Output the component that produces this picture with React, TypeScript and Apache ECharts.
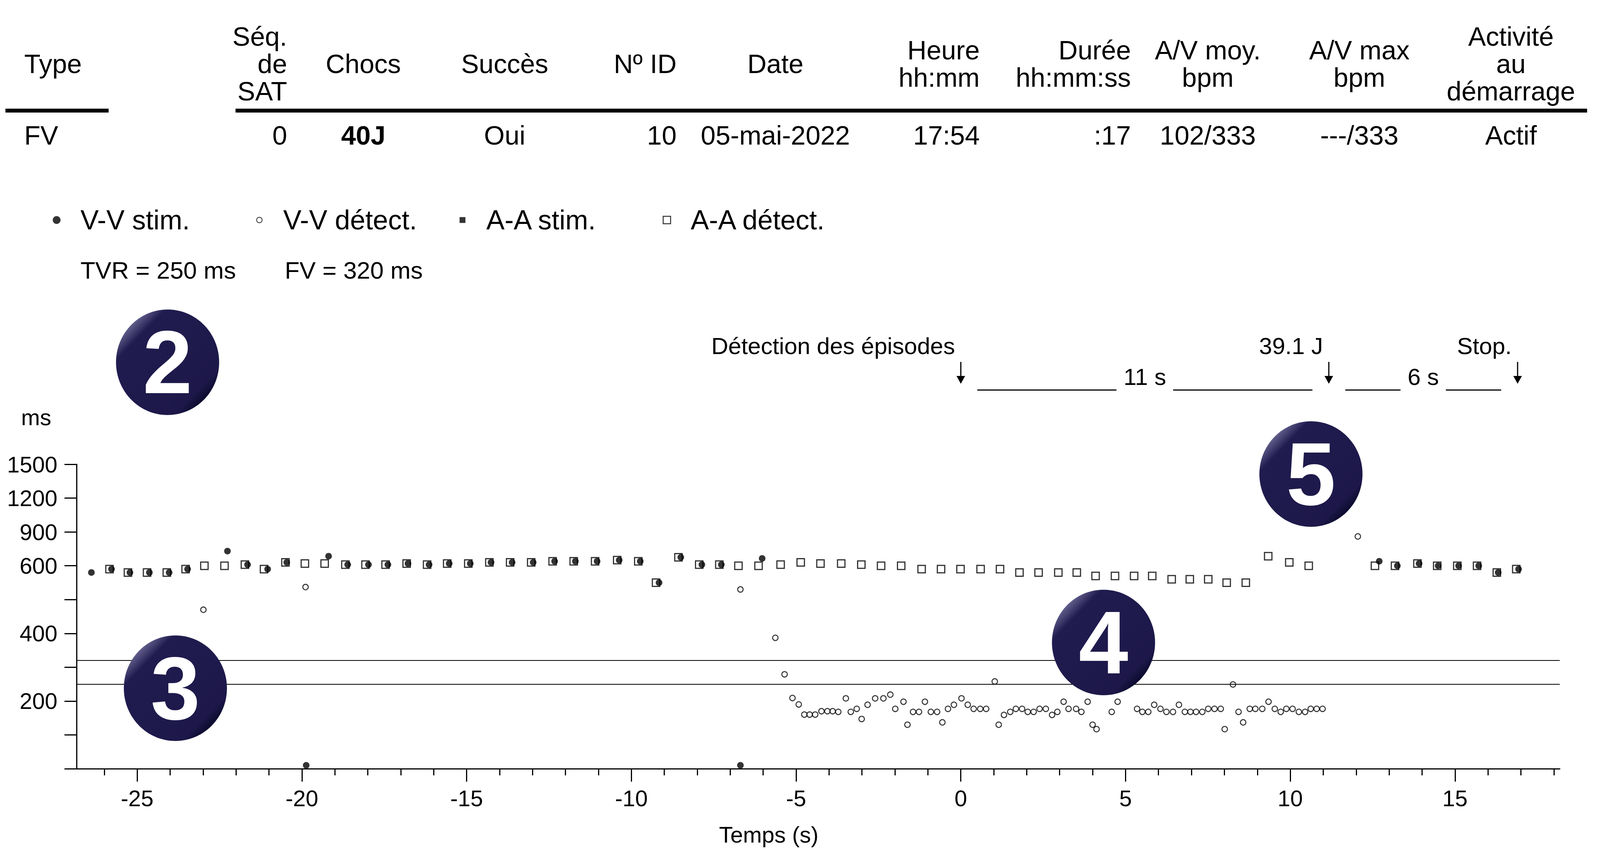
import React, { useEffect, useRef } from "react";
import * as echarts from "echarts";

const FONT = "'Liberation Sans', Arial, Helvetica, sans-serif";

// episode table
const headerLabels = [
  "Type",
  "Séq.\nde\nSAT",
  "Chocs",
  "Succès",
  "Nº ID",
  "Date",
  "Heure\nhh:mm",
  "Durée\nhh:mm:ss",
  "A/V moy.\nbpm",
  "A/V max\nbpm",
  "Activité\nau\ndémarrage",
];
const rowValues = ["FV", "0", "40J", "Oui", "10", "05-mai-2022", "17:54", ":17", "102/333", "---/333", "Actif"];
const boldColumns = ["Chocs"];

// series names (legend order) and zone limits
const seriesNames = ["V-V stim.", "V-V détect.", "A-A stim.", "A-A détect."];
const zoneLabels = ["TVR = 250 ms", "FV = 320 ms"];
const zoneLimits = [250, 320];

// y axis: intervals in ms, one tick per step (scale changes above 600)
const yTickValues = [0, 100, 200, 300, 400, 500, 600, 900, 1200, 1500];
const yTickLabels = ["", "", "200", "", "400", "", "600", "900", "1200", "1500"];

// x axis (s)
const xMajorTicks = [-25, -20, -15, -10, -5, 0, 5, 10, 15];
const xMinorTicks = [-26, -24, -23, -22, -21, -19, -18, -17, -16, -14, -13, -12, -11, -9, -8, -7, -6, -4, -3, -2, -1,
  1, 2, 3, 4, 6, 7, 8, 9, 11, 12, 13, 14, 16, 17, 18];

// episode events
const eventTimes = [0, 11.17, 16.9];
const eventLabels = ["Détection des épisodes", "39.1 J", "Stop."];
const intervalLabels = ["11 s", "6 s"];

const badgeLabels = ["2", "3", "4", "5"];

// [time s, interval ms]
const vvStim: [number, number][] = [
  [-26.39, 580], [-25.78, 590], [-25.22, 580], [-24.63, 580], [-24.03, 580], [-23.47, 590], [-22.26, 730],
  [-21.65, 610], [-21.04, 590], [-20.46, 630], [-19.87, 10], [-19.19, 685], [-18.61, 610], [-17.98, 610],
  [-17.39, 610], [-16.78, 620], [-16.14, 610], [-15.53, 620], [-14.89, 620], [-14.26, 630], [-13.62, 630],
  [-12.98, 630], [-12.33, 640], [-11.7, 640], [-11.04, 640], [-10.37, 650], [-9.73, 640], [-9.16, 550],
  [-8.5, 675], [-7.86, 610], [-7.27, 610], [-6.69, 10], [-6.03, 665], [12.7, 640], [13.25, 600], [13.91, 620],
  [14.49, 600], [15.11, 600], [15.72, 600], [16.31, 580], [16.93, 590],
];

const vvDetect: [number, number][] = [
  [-22.99, 470], [-19.89, 537], [-6.69, 530], [-5.63, 387], [-5.35, 279], [-5.11, 209], [-4.92, 190],
  [-4.75, 160], [-4.59, 160], [-4.42, 160], [-4.23, 170], [-4.05, 170], [-3.89, 170], [-3.72, 168],
  [-3.49, 208], [-3.34, 168], [-3.16, 177], [-3.01, 147], [-2.83, 189], [-2.6, 208], [-2.35, 208],
  [-2.14, 219], [-1.99, 177], [-1.74, 198], [-1.62, 130], [-1.45, 168], [-1.27, 168], [-1.09, 198],
  [-0.91, 168], [-0.72, 168], [-0.56, 137], [-0.39, 177], [-0.21, 189], [0.02, 208], [0.21, 189],
  [0.39, 177], [0.59, 177], [0.77, 177], [1.03, 258], [1.15, 130], [1.31, 159], [1.5, 168], [1.67, 177],
  [1.86, 177], [2.03, 168], [2.21, 168], [2.39, 177], [2.58, 177], [2.77, 159], [2.93, 168], [3.12, 198],
  [3.27, 177], [3.5, 177], [3.66, 168], [3.85, 198], [4.0, 130], [4.12, 117], [4.58, 168], [4.76, 198],
  [5.35, 177], [5.51, 168], [5.69, 168], [5.87, 189], [6.06, 177], [6.24, 168], [6.44, 168], [6.62, 189],
  [6.8, 168], [6.97, 168], [7.14, 168], [7.33, 168], [7.51, 177], [7.7, 177], [7.89, 177], [8.01, 117],
  [8.26, 249], [8.43, 168], [8.57, 137], [8.77, 177], [8.94, 177], [9.15, 177], [9.34, 198], [9.53, 177],
  [9.71, 168], [9.88, 177], [10.07, 177], [10.26, 168], [10.45, 168], [10.62, 177], [10.8, 177],
  [10.98, 177], [12.05, 860],
];

const aaStim: [number, number][] = [];

const aaDetect: [number, number][] = [
  [-25.84, 590], [-25.28, 580], [-24.7, 580], [-24.1, 580], [-23.53, 590], [-22.96, 600], [-22.35, 600],
  [-21.73, 610], [-21.15, 590], [-20.5, 630], [-19.91, 620], [-19.31, 620], [-18.68, 610], [-18.07, 610],
  [-17.46, 610], [-16.82, 620], [-16.2, 610], [-15.59, 620], [-14.95, 620], [-14.31, 630], [-13.68, 630],
  [-13.04, 630], [-12.39, 640], [-11.75, 640], [-11.1, 640], [-10.43, 650], [-9.79, 640], [-9.25, 550],
  [-8.57, 675], [-7.94, 610], [-7.33, 610], [-6.75, 600], [-6.14, 600], [-5.47, 610], [-4.86, 630],
  [-4.26, 620], [-3.63, 620], [-3.02, 610], [-2.42, 600], [-1.81, 600], [-1.19, 590], [-0.6, 590],
  [-0.01, 590], [0.6, 590], [1.19, 590], [1.78, 580], [2.36, 580], [2.96, 580], [3.52, 580], [4.09, 570],
  [4.68, 570], [5.26, 570], [5.81, 570], [6.4, 560], [6.95, 560], [7.51, 560], [8.07, 550], [8.65, 550],
  [9.33, 685], [9.97, 630], [10.56, 600], [12.57, 600], [13.18, 600], [13.86, 620], [14.46, 600],
  [15.07, 600], [15.67, 600], [16.27, 580], [16.86, 590],
];

// layout
const X_MIN = -26.84;
const X_MAX = 18.18;
const GRID = { left: 196, top: 1188, width: 3797, height: 779 };
const columnLayout: { x: number; align: string }[] = [
  { x: 62, align: "left" },
  { x: 735, align: "right" },
  { x: 930, align: "center" },
  { x: 1292, align: "center" },
  { x: 1732, align: "right" },
  { x: 1985, align: "center" },
  { x: 2508, align: "right" },
  { x: 2895, align: "right" },
  { x: 3092, align: "center" },
  { x: 3480, align: "center" },
  { x: 3868, align: "center" },
];
const legendIconX = [145, 663, 1184, 1706];
const legendIconSize = [20, 14, 15, 19];
const zoneLabelX = [206, 729];
const badgeCenters = [[429, 927], [449, 1761], [2825, 1644], [3356, 1213]];

// ms -> position on the piecewise y scale (one unit per tick)
function toDisplay(ms: number) {
  for (let i = 1; i < yTickValues.length; i++) {
    if (ms <= yTickValues[i]) {
      return i - 1 + (ms - yTickValues[i - 1]) / (yTickValues[i] - yTickValues[i - 1]);
    }
  }
  return yTickValues.length - 1;
}

const toPoints = (arr: [number, number][]) => arr.map(([t, ms]) => [t, toDisplay(ms)]);

function textWidth(text: string, size: number) {
  const ctx = document.createElement("canvas").getContext("2d");
  if (!ctx) return text.length * size * 0.5;
  ctx.font = `${size}px ${FONT}`;
  return ctx.measureText(text).width;
}

export default function App() {
  const chartRef = useRef<HTMLDivElement>(null);
  const chartInstance = useRef<echarts.EChartsType | null>(null);

  useEffect(() => {
    if (!chartRef.current) return;

    chartInstance.current = echarts.init(chartRef.current, null, { renderer: "svg" });
    const chart = chartInstance.current;

    const axisColor = { color: "#000", width: 3 };
    const empty = "rgba(0,0,0,0)";

    const legendStyles = [
      { icon: "circle", itemStyle: { color: "#000" } },
      { icon: "circle", itemStyle: { color: "#fff", borderColor: "#000", borderWidth: 2 } },
      { icon: "rect", itemStyle: { color: "#000" } },
      { icon: "rect", itemStyle: { color: "#fff", borderColor: "#000", borderWidth: 2.5 } },
    ];

    chart.setOption({
      animation: false,
      textStyle: { fontFamily: FONT },
      grid: { ...GRID, containLabel: false },
      legend: seriesNames.map((name, i) => ({
        show: true,
        selectedMode: false,
        left: legendIconX[i] - legendIconSize[i] / 2,
        top: 528,
        padding: 0,
        itemWidth: legendIconSize[i],
        itemHeight: legendIconSize[i],
        data: [{ name, ...legendStyles[i] }],
        textStyle: {
          fontSize: 70,
          fontFamily: FONT,
          color: "#000",
          padding: [0, 0, 0, 56 - legendIconSize[i] / 2],
        },
      })),
      xAxis: [
        {
          type: "value",
          min: X_MIN,
          max: X_MAX,
          position: "bottom",
          axisLine: { show: true, onZero: false, lineStyle: axisColor },
          axisTick: { show: true, customValues: xMajorTicks, length: 33, lineStyle: axisColor },
          axisLabel: {
            show: true,
            customValues: xMajorTicks,
            fontSize: 58,
            fontFamily: FONT,
            color: "#000",
            margin: 46,
          },
          splitLine: { show: false },
        },
        {
          type: "value",
          min: X_MIN,
          max: X_MAX,
          position: "bottom",
          axisLine: { show: false, onZero: false },
          axisTick: { show: true, customValues: xMinorTicks, length: 17, lineStyle: axisColor },
          axisLabel: { show: false },
          splitLine: { show: false },
        },
      ],
      yAxis: {
        type: "value",
        min: 0,
        max: yTickValues.length - 1,
        interval: 1,
        position: "left",
        axisLine: { show: true, onZero: false, lineStyle: axisColor },
        axisTick: { show: true, length: 31, lineStyle: axisColor },
        axisLabel: {
          fontSize: 58,
          fontFamily: FONT,
          color: "#000",
          margin: 49,
          formatter: (v: number) => yTickLabels[Math.round(v)] ?? "",
        },
        splitLine: { show: false },
      },
      series: [
        {
          name: seriesNames[2],
          type: "scatter",
          symbol: "rect",
          symbolSize: 16,
          itemStyle: { color: "#000" },
          data: toPoints(aaStim),
        },
        {
          name: seriesNames[3],
          type: "scatter",
          symbol: "rect",
          symbolSize: 19,
          itemStyle: { color: empty, borderColor: "#000", borderWidth: 3 },
          data: toPoints(aaDetect),
        },
        {
          name: seriesNames[1],
          type: "scatter",
          symbol: "circle",
          symbolSize: 14,
          itemStyle: { color: empty, borderColor: "#000", borderWidth: 2.5 },
          data: toPoints(vvDetect),
          markLine: {
            silent: true,
            symbol: "none",
            label: { show: false },
            lineStyle: { color: "#000", width: 2, type: "solid" },
            data: zoneLimits.map((v) => ({ yAxis: toDisplay(v) })),
          },
        },
        {
          name: seriesNames[0],
          type: "scatter",
          symbol: "circle",
          symbolSize: 17,
          itemStyle: { color: "#000" },
          data: toPoints(vvStim),
        },
      ],
    });

    // texts, table and annotations
    const graphics: any[] = [];
    const txt = (x: number, y: number, text: string, size: number, align = "left", extra: any = {}) => ({
      type: "text",
      x,
      y,
      style: { text, fontSize: size, fontFamily: FONT, fill: "#000", align, verticalAlign: "middle", ...extra },
    });

    headerLabels.forEach((label, i) => {
      const col = columnLayout[i];
      graphics.push(txt(col.x, 163, label, 68, col.align, { lineHeight: 70 }));
      graphics.push(
        txt(col.x, 346, rowValues[i], 68, col.align, {
          fontWeight: boldColumns.includes(label) ? "bold" : "normal",
        })
      );
    });
    graphics.push({ type: "rect", shape: { x: 14, y: 278, width: 264, height: 10 }, style: { fill: "#000" } });
    graphics.push({ type: "rect", shape: { x: 603, y: 278, width: 3460, height: 10 }, style: { fill: "#000" } });

    zoneLabels.forEach((label, i) => graphics.push(txt(zoneLabelX[i], 691, label, 62)));

    graphics.push(txt(54, 1067, "ms", 58));
    graphics.push(txt(1968, 2135, "Temps (s)", 58, "center"));

    // event arrows on the time scale
    const ex = eventTimes.map((t) => chart.convertToPixel({ xAxisIndex: 0 }, t) as number);
    ex.forEach((x, i) => {
      graphics.push(txt(x - 15, 885, eventLabels[i], 60, "right"));
      graphics.push({ type: "line", shape: { x1: x, y1: 926, x2: x, y2: 966 }, style: { stroke: "#000", lineWidth: 3 } });
      graphics.push({
        type: "polygon",
        shape: { points: [[x - 11, 962], [x + 11, 962], [x, 982]] },
        style: { fill: "#000" },
      });
    });
    intervalLabels.forEach((label, i) => {
      const a = ex[i];
      const b = ex[i + 1];
      const mid = (a + b) / 2;
      const half = textWidth(label, 60) / 2;
      graphics.push(txt(mid, 964, label, 60, "center"));
      const segs = [[a + 42, mid - half - 18], [mid + half + 18, b - 42]];
      segs.forEach(([x1, x2]) =>
        graphics.push({ type: "line", shape: { x1, y1: 998, x2, y2: 998 }, style: { stroke: "#000", lineWidth: 3 } })
      );
    });

    // numbered badges
    badgeLabels.forEach((label, i) => {
      const [cx, cy] = badgeCenters[i];
      graphics.push({
        type: "ellipse",
        z: 100,
        shape: { cx, cy, rx: 132, ry: 135 },
        style: {
          fill: new echarts.graphic.LinearGradient(0, 0, 1, 1, [
            { offset: 0, color: "#b0adc8" },
            { offset: 0.15, color: "#5f5b88" },
            { offset: 0.24, color: "#211c4f" },
            { offset: 0.78, color: "#1d1849" },
            { offset: 0.86, color: "#0b092c" },
            { offset: 1, color: "#000010" },
          ]),
        },
      });
      graphics.push({
        type: "text",
        z: 101,
        x: cx,
        y: cy,
        style: {
          text: label,
          fontSize: 228,
          fontWeight: "bold",
          fontFamily: FONT,
          fill: "#fff",
          align: "center",
          verticalAlign: "middle",
        },
      });
    });

    chart.setOption({ graphic: graphics });

    const handleResize = () => {
      chartInstance.current?.resize();
    };
    window.addEventListener("resize", handleResize);

    return () => {
      window.removeEventListener("resize", handleResize);
      chartInstance.current?.dispose();
    };
  }, []);

  return (
    <div
      ref={chartRef}
      style={{ position: "fixed", left: 0, top: 0, width: "100vw", height: "100vh", background: "#fff" }}
    />
  );
}
